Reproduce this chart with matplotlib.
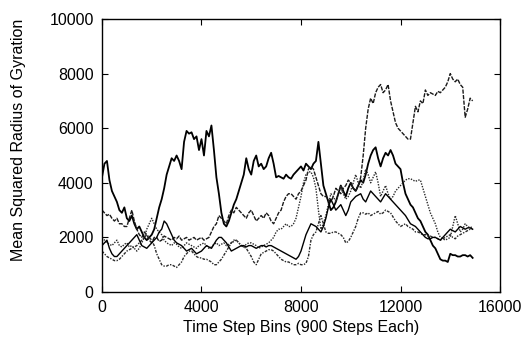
import numpy as np
import matplotlib
matplotlib.use('Agg')
import matplotlib.pyplot as plt

plt.rcParams['font.family'] = ['Liberation Sans', 'DejaVu Sans']

# time step bins, one value every 100 bins
bins = np.arange(0, 15000, 100)

run_a = [4200, 4700, 4800, 4100, 3700, 3500, 3300, 3000, 2900, 3100,
         2700, 2600, 2800, 2500, 2300, 2400, 2200, 2000, 1900, 2000,
         2100, 2300, 2700, 3100, 3400, 3800, 4300, 4600, 4900, 4800,
         5000, 4800, 4500, 5500, 5900, 5800, 5850, 5600, 5700, 5200,
         5600, 5000, 5900, 5700, 6100, 5200, 4200, 3600, 2900, 2500,
         2400, 2600, 2900, 3200, 3400, 3700, 4000, 4300, 4900, 4500,
         4300, 4800, 5000, 4600, 4700, 4500, 4600, 4900, 5100, 4700,
         4200, 4250, 4200, 4150, 4300, 4200, 4150, 4300, 4400, 4500,
         4600, 4450, 4700, 4600, 4500, 4700, 4800, 5500, 4700, 3900,
         3600, 3300, 3000, 3100, 3300, 3600, 3900, 3700, 3500, 3800,
         4000, 3800, 3700, 3900, 4100, 4000, 4300, 4700, 5000, 5200,
         5300, 4900, 4600, 4900, 5100, 5000, 5200, 5000, 4700, 4600,
         4500, 4000, 3600, 3400, 3200, 3100, 2900, 2700, 2600, 2400,
         2200, 2100, 1900, 1700, 1600, 1400, 1200, 1150, 1150, 1100,
         1400, 1350, 1350, 1300, 1300, 1350, 1350, 1300, 1350, 1250]

run_b = [3000, 2900, 2800, 2850, 2700, 2600, 2700, 2500, 2500, 2400,
         2400, 2700, 3000, 2600, 2300, 2100, 2000, 2200, 2100, 1900,
         1800, 2000, 2000, 1850, 1900, 2050, 2000, 1950, 1900, 2000,
         1950, 2050, 1900, 1950, 2000, 1900, 1950, 2000, 1900, 1950,
         2000, 1900, 1950, 2000, 2200, 2400, 2500, 2800, 2700, 2600,
         2500, 2800, 3000, 2900, 3100, 3000, 2900, 2800, 2700, 2900,
         3000, 2800, 2600, 2700, 2800, 2700, 2900, 2800, 2600, 2500,
         2700, 2900, 3000, 3300, 3500, 3600, 3600, 3500, 3400, 3600,
         3700, 3900, 4100, 4500, 4600, 4500, 4200, 3900, 3600, 3500,
         3500, 3400, 3300, 3500, 3800, 3700, 3600, 3800, 3900, 4100,
         4000, 3800, 3700, 3900, 4200, 5000, 6000, 6700, 7100, 6900,
         7300, 7500, 7600, 7300, 7400, 7600, 7000, 6600, 6200, 6000,
         5900, 5800, 5700, 5600, 5600, 6200, 6800, 6600, 7000, 6900,
         7400, 7200, 7300, 7250, 7200, 7350, 7300, 7400, 7500, 7700,
         8000, 7800, 7700, 7800, 7600, 7500, 6400, 6700, 7100, 7000]

run_c = [2000, 1900, 1800, 1750, 1700, 1800, 1900, 1700, 1650, 1750,
         1800, 1650, 1700, 1600, 1500, 1600, 1800, 2000, 2300, 2500,
         2700, 2500, 2300, 2200, 2100, 1900, 1800, 1750, 1700, 1800,
         1750, 1650, 1600, 1700, 1800, 1750, 1700, 1650, 1600, 1700,
         1750, 1800, 1700, 1600, 1650, 1750, 1800, 1700, 1750, 1800,
         1700, 1750, 1800, 1850, 1900, 1800, 1700, 1650, 1750, 1800,
         1800, 1750, 1700, 1600, 1650, 1700, 1750, 1800, 1900, 2000,
         2200, 2300, 2300, 2400, 2500, 2400, 2400, 2500, 2700, 3100,
         3500, 4000, 4300, 4400, 4400, 4200, 3800, 3000, 2300, 2500,
         2800, 3200, 3600, 3500, 3300, 3600, 3900, 3600, 3400, 3500,
         3700, 4000, 4300, 4000, 3800, 4100, 4500, 4300, 4000, 4200,
         4400, 4000, 3500, 3700, 3900, 3600, 3400, 3500, 3700, 3800,
         3900, 4000, 4100, 4150, 4150, 4100, 4050, 4100, 4100, 3800,
         3500, 3200, 2900, 2700, 2500, 2200, 2000, 1950, 1900, 1950,
         2000, 2400, 2800, 2500, 2200, 2300, 2500, 2400, 2350, 2400]

run_d = [1500, 1400, 1300, 1250, 1200, 1150, 1150, 1200, 1300, 1400,
         1500, 1550, 1600, 1650, 1700, 1800, 1900, 2000, 2100, 2000,
         1900, 1700, 1400, 1200, 1000, 950, 950, 1000, 1000, 950,
         900, 1000, 1100, 1300, 1400, 1500, 1500, 1400, 1300, 1250,
         1250, 1200, 1200, 1150, 1100, 1000, 1000, 1100, 1200, 1350,
         1500, 1650, 1800, 1900, 1900, 1800, 1700, 1650, 1600, 1450,
         1300, 1100, 1000, 1200, 1400, 1450, 1500, 1550, 1550, 1500,
         1400, 1300, 1200, 1150, 1100, 1100, 1050, 1000, 1000, 1050,
         1000, 1000, 1050, 1300, 1900, 2100, 2200, 2500, 2800, 2500,
         2200, 2150, 2150, 2200, 2200, 2150, 2100, 2000, 1800, 1850,
         2000, 2200, 2400, 2700, 2900, 2900, 2850, 2900, 2800, 2850,
         2900, 2950, 2850, 2900, 3000, 2950, 2900, 2750, 2600, 2500,
         2400, 2450, 2500, 2400, 2350, 2300, 2200, 2200, 2150, 2100,
         2100, 2050, 2050, 2000, 2000, 1950, 1900, 1950, 2000, 2050,
         2100, 2000, 1950, 2050, 2100, 2150, 2200, 2250, 2300, 2300]

run_e = [1700, 1800, 1900, 1600, 1400, 1300, 1300, 1400, 1500, 1600,
         1700, 1800, 1900, 2000, 2100, 1900, 1700, 1650, 1600, 1700,
         1800, 1900, 2000, 2200, 2300, 2600, 2500, 2300, 2100, 1900,
         1800, 1750, 1700, 1600, 1500, 1550, 1600, 1500, 1400, 1450,
         1500, 1600, 1700, 1650, 1600, 1750, 1900, 2000, 2000, 1900,
         1800, 1650, 1500, 1550, 1600, 1650, 1700, 1700, 1650, 1700,
         1700, 1650, 1600, 1650, 1700, 1700, 1650, 1700, 1700, 1650,
         1600, 1550, 1500, 1450, 1400, 1350, 1300, 1250, 1200, 1300,
         1500, 1800, 2100, 2300, 2500, 2450, 2400, 2300, 2200, 2400,
         2700, 3100, 3400, 3200, 3000, 3100, 3200, 3000, 2800, 3000,
         3300, 3400, 3500, 3550, 3600, 3400, 3300, 3500, 3700, 3600,
         3500, 3400, 3300, 3450, 3600, 3500, 3400, 3300, 3200, 3100,
         3000, 2900, 2800, 2650, 2500, 2450, 2400, 2300, 2200, 2100,
         2000, 1950, 1950, 2000, 2000, 1950, 1900, 2000, 2100, 2200,
         2300, 2250, 2200, 2300, 2400, 2350, 2300, 2350, 2350, 2300]

fig = plt.figure(figsize=(5.27, 3.39), dpi=100)
ax = fig.add_axes([0.1935, 0.1386, 0.7553, 0.8054])

ax.plot(bins, run_a, color='black', lw=1.3, ls='-')
ax.plot(bins, run_b, color='#1a1a1a', lw=1.0, ls=(0, (3, 1)))
ax.plot(bins, run_c, color='#2a2a2a', lw=1.0, ls=(0, (1, 1)))
ax.plot(bins, run_d, color='#2a2a2a', lw=1.0, ls=(0, (2, 1, 1, 1)))
ax.plot(bins, run_e, color='black', lw=1.0, ls='-')

ax.set_xlim(0, 16000)
ax.set_ylim(0, 10000)
ax.set_xticks([0, 4000, 8000, 12000, 16000])
ax.set_yticks([0, 2000, 4000, 6000, 8000, 10000])
ax.tick_params(direction='in', top=True, right=True, length=4, labelsize=11.5, pad=6)
for s in ax.spines.values():
    s.set_linewidth(1.0)

ax.set_xlabel('Time Step Bins (900 Steps Each)', fontsize=11.5, labelpad=3)
ax.set_ylabel('Mean Squared Radius of Gyration', fontsize=11.5)
ax.yaxis.set_label_coords(-0.19, 0.557)

plt.savefig('out.png', dpi=100)
